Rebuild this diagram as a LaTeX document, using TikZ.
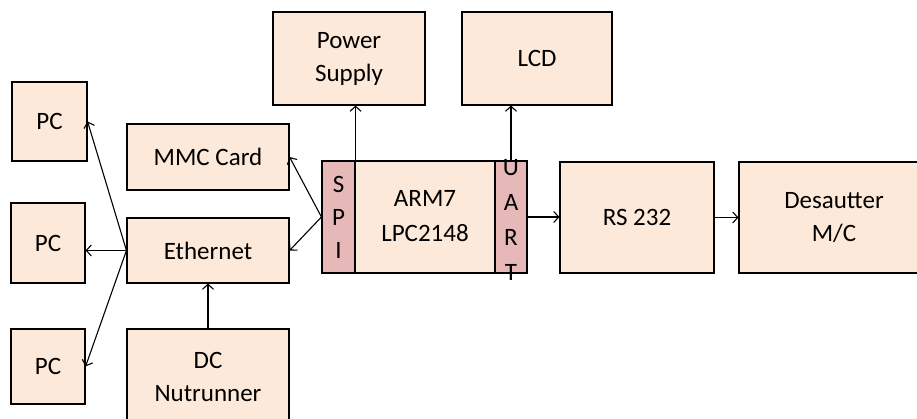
\documentclass[tikz,border=0pt]{standalone}
\usepackage{fontspec}
\setmainfont{Carlito}
\usetikzlibrary{arrows.meta}
\definecolor{peach}{HTML}{FDE9D9}
\definecolor{pinkstrip}{HTML}{E6B9B8}
\tikzset{
  blk/.style={draw=black, line width=1.1pt, fill=peach, inner sep=0pt, align=center,
    font=\fontsize{25}{33}\selectfont},
  strip/.style={draw=black, line width=1.1pt, fill=pinkstrip, inner sep=0pt, align=center,
    font=\fontsize{25}{33}\selectfont},
  conn/.style={line width=1.1pt, -{Straight Barb[length=5pt,width=11pt]}}
}
\begin{document}
\begin{tikzpicture}[x=1pt,y=-1pt]
\useasboundingbox (0,0) rectangle (917,419);
\fill[white] (0,0) rectangle (917,419);
% left column
\node[blk, minimum width=75pt, minimum height=79pt] (pc1) at (49.5,121.5) {PC};
\node[blk, minimum width=74pt, minimum height=80pt] (pc2) at (48,243) {PC};
\node[blk, minimum width=74pt, minimum height=75pt] (pc3) at (48,366.5) {PC};
% second column
\node[blk, minimum width=162pt, minimum height=66pt] (mmc) at (208,157) {MMC Card};
\node[blk, minimum width=162pt, minimum height=65pt] (eth) at (208,250.5) {Ethernet};
\node[blk, minimum width=162pt, minimum height=96pt] (dc) at (208,377) {DC\\Nutrunner};
% top
\node[blk, minimum width=152pt, minimum height=93pt] (ps) at (349,58.5) {Power\\Supply};
\node[blk, minimum width=150pt, minimum height=93pt] (lcd) at (537,58.5) {LCD};
% ARM
\node[blk, minimum width=205pt, minimum height=112pt] (arm) at (424.5,217) {};
\node[font=\fontsize{25}{35}\selectfont, align=center] (armt) at (425,216) {ARM7\\LPC2148};
\node[strip, minimum width=33pt, minimum height=112pt] (spi) at (338.5,217) {S\\P\\I};
\node[strip, minimum width=32pt, minimum height=112pt] (uart) at (511,217) {};
\node[font=\fontsize{25}{35}\selectfont, align=center] (uartt) at (511,220) {U\\A\\R\\T};
% right
\node[blk, minimum width=154pt, minimum height=111pt] (rs) at (637,217.5) {RS 232};
\node[blk, minimum width=190pt, minimum height=111pt, text width=180pt] (des) at (834,217.5) {Desautter\\M/C};
% connectors
\draw[conn] (spi.north east) -- (spi.north east |- ps.south);
\draw[conn] (uart.north) -- (uart.north |- lcd.south);
\draw[conn] (spi.west) -- (mmc.east);
\draw[conn] (spi.west) -- (eth.east);
\draw[conn] (eth.west) -- (pc1.east);
\draw[conn] (eth.west) -- (pc2.east |- eth.west);
\draw[conn] (eth.west) -- (pc3.east);
\draw[conn] (dc.north) -- (eth.south);
\draw[conn] (uart.east) -- (rs.west |- uart.east);
\draw[conn] (rs.east) -- (des.west |- rs.east);
\end{tikzpicture}
\end{document}
